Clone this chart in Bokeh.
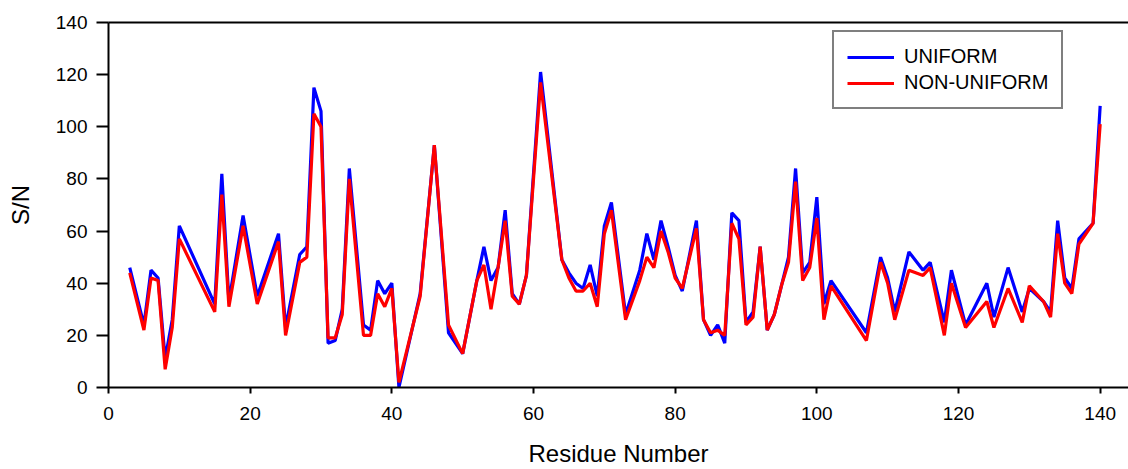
from bokeh.plotting import figure
from bokeh.models import Range1d, LinearAxis, Legend, LegendItem, FixedTicker
from bokeh.embed import file_html
from bokeh.resources import INLINE

residue = [3, 5, 6, 7, 8, 9, 10, 15, 16, 17, 19, 21, 24, 25, 27, 28, 29, 30, 31, 32,
           33, 34, 36, 37, 38, 39, 40, 41, 44, 46, 48, 50, 52, 53, 54, 55, 56, 57, 58, 59,
           61, 64, 65, 66, 67, 68, 69, 70, 71, 73, 75, 76, 77, 78, 79, 80, 81, 83, 84, 85,
           86, 87, 88, 89, 90, 91, 92, 93, 94, 95, 96, 97, 98, 99, 100, 101, 102, 107, 109, 110,
           111, 113, 115, 116, 118, 119, 121, 124, 125, 127, 129, 130, 132, 133, 134, 135, 136, 137, 139, 140]

uniform = [46, 24, 45, 42, 11, 26, 62, 32, 82, 33, 66, 35, 59, 23, 51, 54, 115, 106, 17, 18,
           30, 84, 24, 22, 41, 36, 40, 0, 36, 93, 21, 13, 41, 54, 41, 46, 68, 36, 32, 43,
           121, 49, 44, 40, 38, 47, 35, 62, 71, 28, 45, 59, 49, 64, 54, 43, 37, 64, 26, 20,
           24, 17, 67, 64, 25, 29, 54, 22, 28, 39, 50, 84, 44, 48, 73, 32, 41, 21, 50, 42,
           29, 52, 45, 48, 25, 45, 24, 40, 27, 46, 29, 38, 33, 29, 64, 42, 38, 57, 63, 108]

non_uniform = [44, 22, 42, 41, 7, 23, 57, 29, 74, 31, 62, 32, 56, 20, 48, 50, 105, 100, 19, 19,
               28, 80, 20, 20, 36, 31, 38, 2, 35, 93, 24, 13, 41, 47, 30, 46, 64, 35, 32, 43,
               117, 49, 42, 37, 37, 40, 31, 59, 68, 26, 41, 50, 46, 60, 52, 42, 38, 61, 26, 21,
               22, 20, 63, 57, 24, 27, 54, 22, 28, 39, 48, 79, 41, 46, 65, 26, 39, 18, 48, 40,
               26, 45, 43, 46, 20, 40, 23, 33, 23, 38, 25, 39, 33, 27, 59, 40, 36, 55, 63, 101]

x_ticks = [0, 20, 40, 60, 80, 100, 120, 140]
y_ticks = [0, 20, 40, 60, 80, 100, 120, 140]
series_names = ["UNIFORM", "NON-UNIFORM"]

FONT = "Liberation Sans"

p = figure(width=1128, height=469, output_backend="svg", toolbar_location=None,
           x_range=Range1d(0, 144), y_range=Range1d(0, 140),
           min_border_left=108, min_border_right=0, min_border_top=22, min_border_bottom=81)
p.outline_line_color = None
p.grid.visible = False
p.background_fill_color = "white"
p.border_fill_color = "white"

r1 = p.line(residue, uniform, line_color="#0000FF", line_width=3.2)
r2 = p.line(residue, non_uniform, line_color="#FF0000", line_width=3.2)

for ax, ticks in ((p.xaxis[0], x_ticks), (p.yaxis[0], y_ticks)):
    ax.ticker = FixedTicker(ticks=ticks)
    ax.minor_tick_line_color = None
    ax.axis_line_width = 2
    ax.axis_line_color = "black"
    ax.major_tick_line_width = 2
    ax.major_tick_line_color = "black"
    ax.major_tick_in = 0
    ax.major_label_text_font = FONT
    ax.major_label_text_font_size = "19px"
    ax.major_label_text_color = "black"
    ax.axis_label_text_font = FONT
    ax.axis_label_text_font_size = "24px"
    ax.axis_label_text_font_style = "normal"
    ax.axis_label_text_color = "black"

p.xaxis[0].major_tick_out = 6
p.xaxis[0].major_label_standoff = 13
p.xaxis[0].axis_label = "Residue Number"
p.xaxis[0].axis_label_standoff = 17
p.yaxis[0].major_tick_out = 12
p.yaxis[0].major_label_standoff = 9
p.yaxis[0].axis_label = "S/N"
p.yaxis[0].axis_label_standoff = 19

top = LinearAxis(ticker=FixedTicker(ticks=[]), major_tick_line_color=None,
                 minor_tick_line_color=None, axis_line_width=2,
                 axis_line_color="black", major_label_standoff=0,
                 major_tick_out=0, major_tick_in=0)
p.add_layout(top, "above")

legend = Legend(items=[LegendItem(label=series_names[0], renderers=[r1]),
                       LegendItem(label=series_names[1], renderers=[r2])],
                location=(724, 278), margin=0, padding=13, spacing=3,
                glyph_width=47, glyph_height=20, label_height=20, label_standoff=10,
                label_text_font=FONT, label_text_font_size="20px", label_text_color="black",
                border_line_color="black", border_line_width=2,
                background_fill_color="white", background_fill_alpha=1.0)
p.add_layout(legend)

open("out.html", "w").write(file_html(p, INLINE))
